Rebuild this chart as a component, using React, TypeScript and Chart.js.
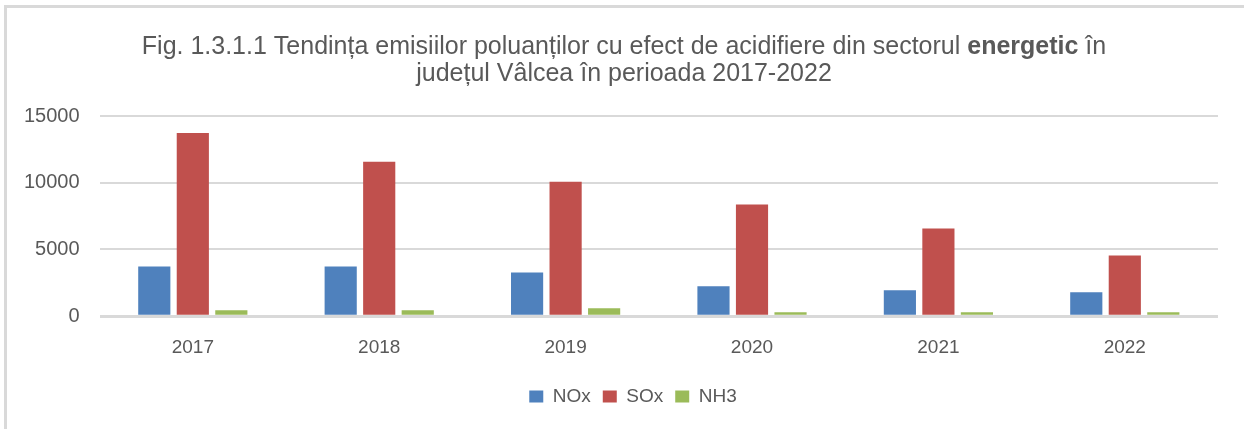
import React, { useEffect, useRef } from "react";
import { Chart, registerables } from "chart.js";

Chart.register(...registerables);

const years = ["2017", "2018", "2019", "2020", "2021", "2022"];
const noxValues = [3730, 3720, 3280, 2240, 1940, 1790];
const soxValues = [13730, 11570, 10080, 8360, 6570, 4550];
const nh3Values = [450, 450, 600, 300, 300, 300];
const yTicks = [0, 5000, 10000, 15000];

const titleLine1Parts = [
  { text: "Fig. 1.3.1.1 Tendința emisiilor poluanților cu efect de acidifiere din sectorul ", bold: false },
  { text: "energetic", bold: true },
  { text: " în", bold: false },
];
const titleLine2 = "județul Vâlcea în perioada 2017-2022";

const FONT = "'Liberation Sans', Arial, sans-serif";
const GRAY = "#595959";

const borderPlugin = {
  id: "frameBorder",
  beforeDraw(chart: any) {
    const ctx = chart.ctx;
    ctx.save();
    ctx.fillStyle = "#d9d9d9";
    ctx.fillRect(4, 5, chart.width - 4, 3);
    ctx.fillRect(4, 5, 3, chart.height - 5);
    ctx.restore();
  },
};

const legendShiftPlugin = {
  id: "legendShift",
  afterLayout(chart: any) {
    if (chart.legend) {
      chart.legend.left += 22;
      chart.legend.right += 22;
    }
  },
};

const titlePlugin = {
  id: "mixedTitle",
  afterDraw(chart: any) {
    const ctx = chart.ctx;
    ctx.save();
    ctx.fillStyle = GRAY;
    ctx.textBaseline = "middle";
    const cx = 624;
    const normal = `25px ${FONT}`;
    const bold = `bold 25px ${FONT}`;
    let total = 0;
    for (const p of titleLine1Parts) {
      ctx.font = p.bold ? bold : normal;
      total += ctx.measureText(p.text).width;
    }
    let x = cx - total / 2;
    ctx.textAlign = "left";
    for (const p of titleLine1Parts) {
      ctx.font = p.bold ? bold : normal;
      ctx.fillText(p.text, x, 47);
      x += ctx.measureText(p.text).width;
    }
    ctx.font = normal;
    ctx.textAlign = "center";
    ctx.fillText(titleLine2, cx, 74);
    ctx.restore();
  },
};

export default function App() {
  const ref = useRef<HTMLCanvasElement>(null);
  useEffect(() => {
    document.body.style.margin = "0";
    const chart = new Chart(ref.current!, {
      type: "bar",
      data: {
        labels: years,
        datasets: [
          { label: "NOx", data: noxValues, backgroundColor: "#4f81bd" },
          { label: "SOx", data: soxValues, backgroundColor: "#c0504d" },
          { label: "NH3", data: nh3Values, backgroundColor: "#9bbb59" },
        ],
      },
      options: {
        animation: false,
        responsive: false,
        maintainAspectRatio: false,
        layout: { padding: { left: 4, right: 26, top: 0, bottom: 13 } },
        datasets: { bar: { categoryPercentage: 0.62, barPercentage: 0.835 } },
        plugins: {
          title: {
            display: true,
            text: ["Fig. 1.3.1.1", "x"],
            color: "rgba(0,0,0,0)",
            font: { family: FONT, size: 20 },
            padding: { top: 34, bottom: 34 },
          },
          legend: {
            position: "bottom",
            labels: {
              boxWidth: 14,
              boxHeight: 12,
              color: GRAY,
              font: { family: FONT, size: 19 },
              padding: 12,
            },
          },
          tooltip: { enabled: false },
        },
        scales: {
          x: {
            grid: { display: false, drawTicks: false },
            border: { display: false },
            ticks: { color: GRAY, font: { family: FONT, size: 19 }, padding: 20 },
            afterFit(axis: any) {
              axis.height -= 4;
            },
          },
          y: {
            min: 0,
            max: 15000,
            afterBuildTicks(axis: any) {
              axis.ticks = yTicks.map((v) => ({ value: v }));
            },
            grid: { color: "#d9d9d9", lineWidth: (c: any) => (c.tick && c.tick.value === 0 ? 3 : 2), drawTicks: false },
            border: { display: false },
            ticks: {
              color: GRAY,
              font: { family: FONT, size: 20 },
              padding: 20,
              callback: (v: any) => String(v),
            },
          },
        },
      },
      plugins: [borderPlugin, titlePlugin, legendShiftPlugin],
    });
    return () => chart.destroy();
  }, []);
  return <canvas ref={ref} width={1244} height={429} style={{ display: "block" }} />;
}
